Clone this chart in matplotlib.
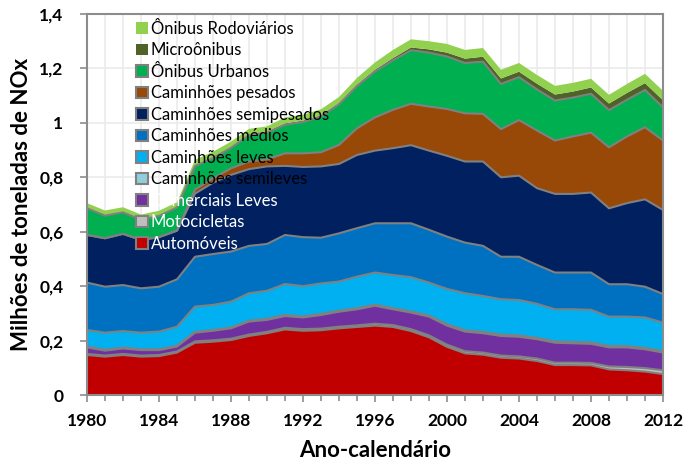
import matplotlib
matplotlib.use("Agg")
import matplotlib.pyplot as plt
from matplotlib.patches import Patch
import numpy as np

years = list(range(1980, 2013))

automoveis = [.147, .141, .147, .141, .143, .156, .192, .196, .202, .217, .227, .241, .236, .238, .245, .250, .255,
              .250, .235, .212, .177, .153, .148, .137, .134, .125, .110, .110, .109, .094, .091, .086, .077]
motocicletas = [.004, .004, .004, .004, .004, .004, .005, .005, .005, .005, .005, .006, .006, .006, .006, .006, .007,
                .007, .007, .007, .008, .008, .008, .008, .008, .009, .009, .009, .009, .011, .012, .013, .014]
comerciais_leves = [.024, .018, .020, .020, .018, .018, .032, .035, .038, .048, .044, .043, .043, .050, .055, .059, .066,
                    .058, .061, .069, .070, .072, .071, .072, .072, .071, .073, .071, .070, .070, .072, .069, .065]
cam_semileves = [.003, .003, .003, .003, .003, .003, .003, .003, .003, .003, .004, .004, .004, .004, .004, .004, .004,
                 .004, .004, .004, .005, .005, .005, .005, .005, .005, .005, .005, .005, .005, .005, .005, .005]
cam_leves = [.061, .063, .061, .061, .065, .070, .093, .092, .095, .101, .103, .114, .111, .112, .107, .116, .118,
             .122, .126, .121, .130, .136, .132, .130, .130, .125, .118, .120, .120, .108, .108, .112, .105]
cam_medios = [.174, .169, .169, .163, .165, .174, .183, .187, .184, .174, .172, .180, .180, .168, .177, .178, .181,
              .190, .198, .194, .192, .186, .184, .156, .159, .143, .135, .135, .137, .119, .119, .113, .105]
cam_semipesados = [.175, .178, .188, .178, .182, .179, .232, .262, .282, .282, .285, .254, .258, .262, .255, .269, .267,
                   .276, .287, .291, .297, .298, .310, .292, .298, .282, .289, .289, .294, .279, .298, .321, .309]
cam_pesados = [0, 0, 0, 0, 0, 0, .015, .016, .024, .028, .026, .046, .050, .052, .070, .098, .122,
               .141, .152, .162, .172, .177, .175, .177, .204, .212, .196, .211, .220, .224, .245, .265, .255]
onibus_urbanos = [.098, .083, .079, .074, .078, .085, .086, .075, .075, .097, .098, .105, .115, .131, .149, .155, .169,
                  .182, .197, .198, .193, .185, .192, .166, .158, .151, .147, .143, .143, .137, .135, .137, .122]
microonibus = [.002, .002, .002, .002, .002, .002, .003, .003, .003, .003, .003, .005, .005, .005, .005, .005, .006,
               .008, .010, .012, .014, .016, .018, .020, .020, .021, .022, .022, .023, .024, .025, .025, .026]
onibus_rodoviarios = [.017, .017, .017, .017, .017, .017, .020, .020, .020, .020, .020, .022, .022, .022, .022, .025, .027,
                      .030, .030, .030, .032, .032, .032, .032, .032, .032, .032, .032, .032, .032, .033, .034, .035]

labels = ["Automóveis", "Motocicletas", "Comerciais Leves", "Caminhões semileves", "Caminhões leves",
          "Caminhões médios", "Caminhões semipesados", "Caminhões pesados", "Ônibus Urbanos",
          "Microônibus", "Ônibus Rodoviários"]
series = [automoveis, motocicletas, comerciais_leves, cam_semileves, cam_leves, cam_medios,
          cam_semipesados, cam_pesados, onibus_urbanos, microonibus, onibus_rodoviarios]
colors = ["#C00000", "#BFBFBF", "#7030A0", "#92CDDC", "#00B0F0", "#0070C0", "#002060",
          "#984807", "#00B050", "#4F6228", "#92D050"]
outlined = [True] * 9 + [False, False]
text_white = [True, True, True] + [False] * 8

yticks = [0, 0.2, 0.4, 0.6, 0.8, 1.0, 1.2, 1.4]
ytick_labels = ["0", "0,2", "0,4", "0,6", "0,8", "1", "1,2", "1,4"]
xticks = list(range(1980, 2013, 4))

plt.rcParams['font.family'] = ['Lato', 'DejaVu Sans']

fig = plt.figure(figsize=(6.86, 4.67), dpi=100)
ax = fig.add_axes([87 / 686, 72 / 467, 576 / 686, 381 / 467])

x = np.array(years)
base = np.zeros(len(x))
tops = []
for vals, col in zip(series, colors):
    v = np.array(vals, dtype=float)
    ax.fill_between(x, base, base + v, facecolor=col, edgecolor='none', linewidth=0, zorder=2)
    base = base + v
    tops.append(base.copy())
for top, out in zip(tops, outlined):
    if out:
        ax.plot(x, top, color="#808080", linewidth=1.5, zorder=3, solid_joinstyle='round')

ax.set_xlim(1980, 2012)
ax.set_ylim(0, 1.4)
ax.set_yticks(yticks)
ax.set_yticklabels(ytick_labels)
ax.set_xticks(xticks)
ax.set_xticks(years, minor=True)
ax.set_xticklabels([str(t) for t in xticks])
ax.grid(True, which='both', axis='x', color='#EBEBEB', linewidth=1.2, zorder=0)
ax.grid(True, which='major', axis='y', color='#EBEBEB', linewidth=1.2, zorder=0)
ax.set_axisbelow(True)

for s in ax.spines.values():
    s.set_color('#8C8C8C')
    s.set_linewidth(1.5)
    s.set_zorder(4)
ax.tick_params(axis='both', which='both', direction='out', color='#8C8C8C', width=1.2)
ax.tick_params(axis='both', which='major', length=5, labelsize=12.5)
ax.tick_params(axis='x', which='major', pad=8)
ax.tick_params(axis='y', which='major', pad=12)
ax.tick_params(axis='x', which='minor', length=4)
for lab in ax.get_xticklabels() + ax.get_yticklabels():
    lab.set_fontweight('bold')

ax.set_xlabel("Ano-calendário", fontsize=16, fontweight='bold', labelpad=8)
ax.set_ylabel("Milhões de toneladas de NOx", fontsize=16, fontweight='bold', labelpad=5)

handles = []
for col, out in zip(colors, outlined):
    if out:
        handles.append(Patch(facecolor=col, edgecolor='#808080', linewidth=1.5))
    else:
        handles.append(Patch(facecolor=col, edgecolor='none'))
leg = ax.legend(handles[::-1], labels[::-1], loc='upper left', bbox_to_anchor=(0.085, 0.982),
                frameon=False, fontsize=12, handlelength=0.7, handleheight=0.7,
                handletextpad=0.2, labelspacing=0.33, borderaxespad=0, borderpad=0)
leg.set_zorder(5)
for txt, white in zip(leg.get_texts(), text_white[::-1]):
    txt.set_color('white' if white else 'black')

fig.savefig("out.png", dpi=100)
